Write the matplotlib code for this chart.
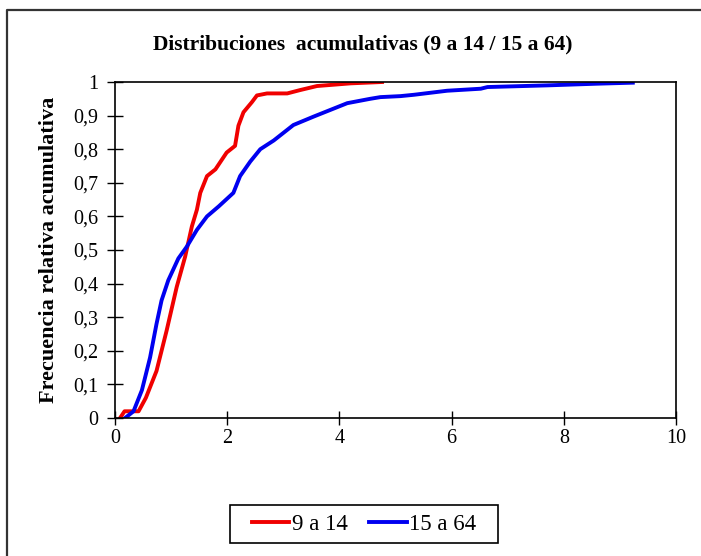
import matplotlib
matplotlib.use("Agg")
import matplotlib.pyplot as plt
from matplotlib.lines import Line2D
from matplotlib.patches import Rectangle
from matplotlib.ticker import FuncFormatter

plt.rcParams['font.family'] = ['Liberation Serif', 'DejaVu Serif']

# 9 a 14
x_joven = [0.09, 0.17, 0.30, 0.42, 0.55, 0.74, 0.92, 1.10, 1.25, 1.37, 1.46, 1.52,
           1.64, 1.79, 1.99, 2.14, 2.20, 2.29, 2.44, 2.53, 2.71, 3.07, 3.30, 3.60,
           4.20, 4.76]
y_joven = [0.0, 0.02, 0.02, 0.02, 0.06, 0.14, 0.26, 0.39, 0.48, 0.57, 0.62, 0.67,
           0.72, 0.74, 0.79, 0.81, 0.87, 0.91, 0.94, 0.96, 0.966, 0.966, 0.976, 0.988,
           0.996, 1.0]

# 15 a 64
x_adulto = [0.18, 0.33, 0.48, 0.625, 0.74, 0.83, 0.95, 1.13, 1.28, 1.46, 1.64, 1.85,
            2.11, 2.23, 2.41, 2.59, 2.83, 3.18, 3.54, 3.84, 4.14, 4.55, 4.73, 5.09,
            5.33, 5.92, 6.52, 6.64, 7.71, 8.60, 9.23]
y_adulto = [0.0, 0.02, 0.083, 0.18, 0.28, 0.35, 0.41, 0.475, 0.51, 0.56, 0.60, 0.63,
            0.67, 0.72, 0.763, 0.80, 0.826, 0.872, 0.897, 0.917, 0.937, 0.95, 0.955,
            0.958, 0.962, 0.974, 0.98, 0.985, 0.99, 0.995, 0.998]

W, H = 701, 556
fig = plt.figure(figsize=(W / 100, H / 100), dpi=100)
ax = fig.add_axes([115/W, 1-418/H, 561/W, 336/H])

# chart area border (only top and left edges show in the picture)
fig.add_artist(Line2D([7/W, 7/W, 1.0], [0.0, 1-10/H, 1-10/H], transform=fig.transFigure,
                      color='#333333', lw=1.6))

ax.plot(x_joven, y_joven, color='#f00000', lw=2.8, label='9 a 14')
ax.plot(x_adulto, y_adulto, color='#0000f0', lw=2.8, label='15 a 64')

ax.set_xlim(0, 10)
ax.set_ylim(0, 1)
ax.set_xticks(range(0, 11, 2))
ax.set_yticks([i / 10 for i in range(11)])
ax.yaxis.set_major_formatter(FuncFormatter(
    lambda v, p: '0' if v == 0 else ('1' if v == 1 else f'{v:.1f}'.replace('.', ','))))
ax.tick_params(axis='y', direction='inout', length=12, width=1, labelsize=14.5, pad=6)
ax.tick_params(axis='x', direction='inout', length=10, width=1, labelsize=14.5, pad=3)
for s in ax.spines.values():
    s.set_linewidth(1.2)

ax.set_ylabel('Frecuencia relativa acumulativa', fontsize=16, fontweight='bold', labelpad=10)
fig.text(363/W, 1-44/H, 'Distribuciones  acumulativas (9 a 14 / 15 a 64)', ha='center', va='center',
         fontsize=15.5, fontweight='bold')

# legend box drawn by hand, entries placed inside it
fig.add_artist(Rectangle((230/W, 1-543/H), 268/W, 38/H, transform=fig.transFigure,
                         fill=False, edgecolor='black', lw=1.2))
fig.legend(loc='center', bbox_to_anchor=(364/W, 1-524/H), ncol=2, fontsize=16.5,
           frameon=False, handlelength=1.65, handletextpad=0.1, columnspacing=0.95)

fig.savefig('out.png', dpi=100)
